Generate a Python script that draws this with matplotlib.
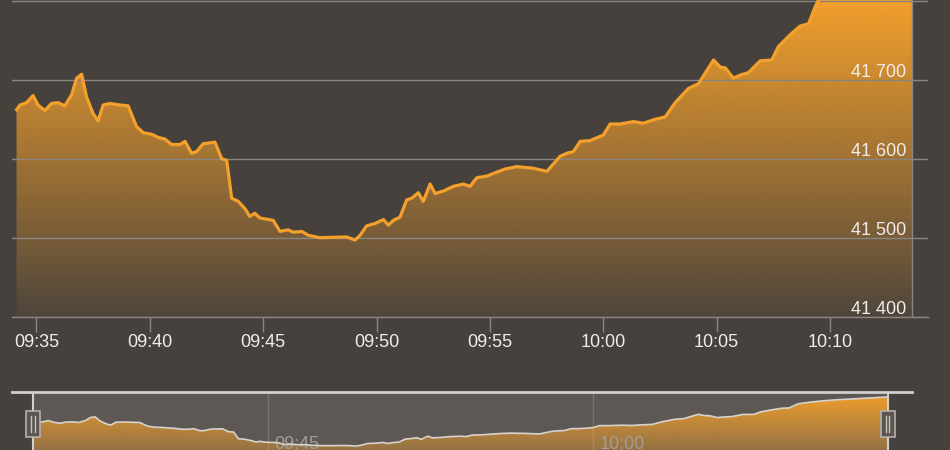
import numpy as np
import matplotlib.pyplot as plt
from matplotlib.patches import Rectangle
from matplotlib.ticker import FuncFormatter
from matplotlib.transforms import ScaledTranslation, blended_transform_factory
from matplotlib.colors import to_rgb

plt.rcParams['font.family'] = ['Liberation Sans', 'DejaVu Sans']

# time in minutes after 09:00, index level
minutes = [34.12, 34.27, 34.56, 34.85, 35.07, 35.37, 35.66, 35.96, 36.25, 36.55,
           36.77, 36.99, 37.21, 37.50, 37.72, 37.94, 38.24, 38.68, 39.04, 39.41,
           39.71, 40.08, 40.37, 40.66, 40.96, 41.33, 41.55, 41.84, 42.06, 42.35,
           42.87, 43.17, 43.39, 43.61, 43.90, 44.19, 44.41, 44.63, 44.85, 45.44,
           45.74, 46.10, 46.32, 46.70, 46.99, 47.50, 48.68, 49.05, 49.27, 49.56,
           49.93, 50.30, 50.52, 50.74, 51.03, 51.33, 51.55, 51.84, 52.06, 52.36,
           52.58, 52.94, 53.38, 53.83, 54.12, 54.42, 54.86, 55.30, 55.67, 56.18,
           56.91, 57.51, 58.09, 58.39, 58.68, 58.98, 59.42, 60.00, 60.30, 60.74,
           61.33, 61.77, 62.29, 62.73, 63.17, 63.75, 64.20, 64.57, 64.86, 65.16,
           65.38, 65.74, 66.04, 66.40, 66.92, 67.43, 67.72, 68.24, 68.68, 69.05,
           69.34, 69.49, 70.00, 70.60, 71.30, 72.00, 72.80, 73.62]
values = [41662, 41668, 41671, 41680, 41668, 41661, 41670, 41671, 41667, 41681,
          41702, 41707, 41678, 41657, 41648, 41668, 41670, 41668, 41667, 41641,
          41633, 41631, 41627, 41625, 41618, 41618, 41622, 41607, 41609, 41619,
          41621, 41600, 41598, 41550, 41546, 41537, 41527, 41531, 41525, 41522,
          41508, 41510, 41507, 41508, 41503, 41500, 41501, 41497, 41503, 41515,
          41518, 41523, 41516, 41522, 41526, 41548, 41550, 41557, 41546, 41568,
          41556, 41559, 41565, 41568, 41565, 41576, 41578, 41583, 41587, 41590,
          41588, 41584, 41603, 41607, 41609, 41622, 41623, 41630, 41644, 41644,
          41647, 41645, 41650, 41653, 41671, 41689, 41695, 41712, 41725, 41716,
          41715, 41702, 41706, 41709, 41724, 41725, 41742, 41757, 41768, 41771,
          41792, 41801, 41812, 41822, 41830, 41836, 41843, 41850]

y_ticks = [41400, 41500, 41600, 41700, 41800]
x_ticks = [35, 40, 45, 50, 55, 60, 65, 70]
nav_ticks = [45, 60]

bg = '#46413c'
orange = '#f4a02c'
grid_col = '#8a8580'
label_col = '#f0ecec'

x = np.array(minutes)
y = np.array(values)


def hhmm(m, pos=None):
    m = int(round(m))
    return f"{9 + m // 60:02d}:{m % 60:02d}"


def gradient_fill(ax, x, y, y0, y1, a0=0.05, a1=1.0):
    poly = ax.fill_between(x, y, y0, color='none', lw=0)
    rgba = np.zeros((256, 1, 4))
    rgba[:, :, :3] = to_rgb(orange)
    rgba[:, 0, 3] = np.linspace(a0, a1, 256)
    xmin, xmax = ax.get_xlim()
    im = ax.imshow(rgba, aspect='auto', origin='lower',
                   extent=[xmin, xmax, y0, y1], zorder=1)
    im.set_clip_path(poly.get_paths()[0], transform=ax.transData)


fig = plt.figure(figsize=(9.5, 4.5), dpi=100, facecolor=bg)

# main chart
ax = fig.add_axes([12 / 950, 1 - 316.7 / 450, 916 / 950, 316.7 / 450])
ax.set_facecolor(bg)
ax.set_xlim(x[0] - 0.2, x[-1] + 0.7)
ax.set_ylim(41400, 41801)
gradient_fill(ax, x, y, 41400, 41801)
for v in y_ticks:
    ax.axhline(v, color=grid_col, lw=1, zorder=2)
ax.axvline(x[-1], color=grid_col, lw=1, zorder=2)
ax.plot(x, y, color=orange, lw=2.3, zorder=3, solid_joinstyle='round')

for s in ['top', 'left', 'right']:
    ax.spines[s].set_visible(False)
ax.spines['bottom'].set_color(grid_col)
ax.spines['bottom'].set_linewidth(1)

ax.set_xticks(x_ticks)
ax.xaxis.set_major_formatter(FuncFormatter(hhmm))
ax.tick_params(axis='x', colors=grid_col, length=10.8, width=1, pad=2,
               labelcolor=label_col, labelsize=13)

ax.yaxis.tick_right()
ax.set_yticks(y_ticks[:-1])
ax.set_yticklabels([f"{v // 1000} {v % 1000:03d}" for v in y_ticks[:-1]])
ax.tick_params(axis='y', length=0, pad=-15.8, labelcolor=label_col, labelsize=13)
shift = ScaledTranslation(0, 0.03, fig.dpi_scale_trans)
for lbl in ax.get_yticklabels():
    lbl.set_horizontalalignment('right')
    lbl.set_verticalalignment('baseline')
    lbl.set_transform(lbl.get_transform() + shift)

# navigator
nav = fig.add_axes([12 / 950, 1 - 452 / 450, 900 / 950, 60 / 450])
nav.set_facecolor(bg)
nav.set_xlim(x[0] - 0.97, x[-1] + 1.11)
rng = y.max() - y.min()
lo, hi = y.min() - 0.12 * rng, y.max() + 0.1 * rng
nav.set_ylim(lo, hi)
nav.axvspan(x[0], x[-1], color='#5d5853', lw=0, zorder=0)
gradient_fill(nav, x, y, lo, hi, a0=0.35, a1=1.0)
nav.plot(x, y, color='#d6d2ce', lw=1.2, zorder=3)

bt = blended_transform_factory(nav.transData, nav.transAxes)
lab_shift = ScaledTranslation(0.06, 0, fig.dpi_scale_trans)
for t in nav_ticks:
    nav.axvline(t, color='#77726d', lw=1, zorder=0.5)
    nav.text(t, 0.13, hhmm(t), transform=bt + lab_shift, ha='left', va='center',
             color='#a39d97', fontsize=13, zorder=2)

for s in ['bottom', 'left', 'right']:
    nav.spines[s].set_visible(False)
nav.spines['top'].set_color('#d0d0d0')
nav.spines['top'].set_linewidth(2)
nav.set_xticks([])
nav.set_yticks([])

for t in [x[0], x[-1]]:
    nav.axvline(t, color='#d0d0d0', lw=1.5, zorder=4)
    nav.add_patch(Rectangle((t - 0.33, 0.245), 0.66, 0.44, transform=bt,
                            facecolor='#5a5550', edgecolor='#b4b0ac', lw=1.2, zorder=5))
    for dx in (-0.07, 0.07):
        nav.plot([t + dx, t + dx], [0.33, 0.6], transform=bt, color='#c8c4c0',
                 lw=1, zorder=6)

fig.savefig('out.png', dpi=100, facecolor=bg)
